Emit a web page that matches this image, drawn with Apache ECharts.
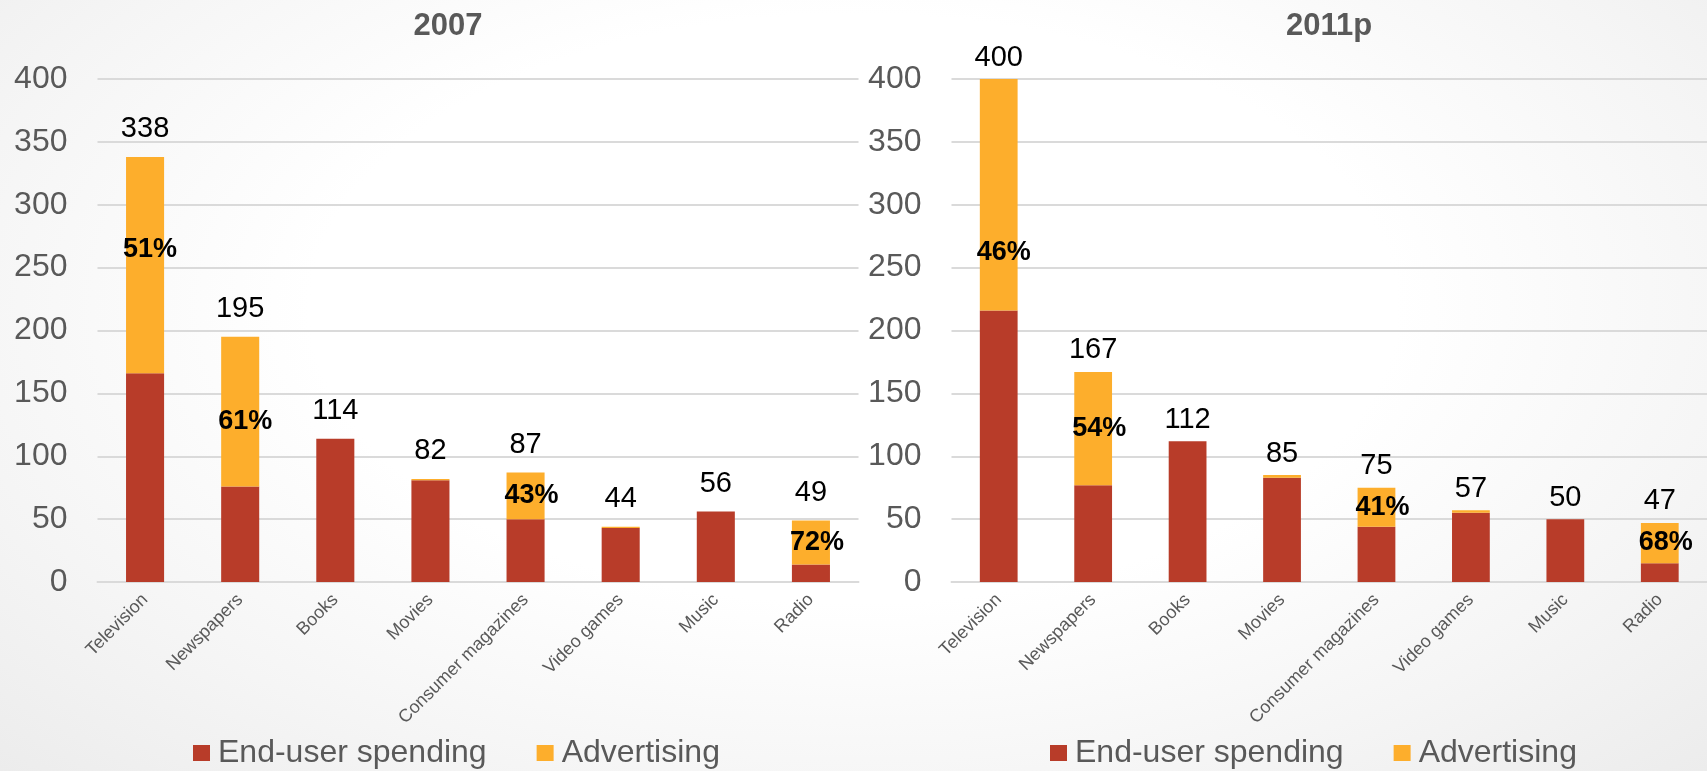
<!DOCTYPE html>
<html>
<head>
<meta charset="utf-8">
<script src="https://cdn.jsdelivr.net/npm/echarts@6/dist/echarts.min.js"></script>
<style>
  html, body { margin: 0; padding: 0; width: 1707px; height: 771px; overflow: hidden; }
  body { background: radial-gradient(ellipse at 50% 40%, #ffffff 45%, #f5f5f5 75%, #ececec 100%); }
  #chart { width: 1707px; height: 771px; }
</style>
</head>
<body>
<div id="chart"></div>
<script>
// ---- data ----
const categories = ['Television', 'Newspapers', 'Books', 'Movies', 'Consumer magazines', 'Video games', 'Music', 'Radio'];
const panelTitles = ['2007', '2011p'];
const seriesNames = ['End-user spending', 'Advertising'];

const endUser2007 = [166, 76, 114, 81, 50, 43, 56, 14];
const advertising2007 = [172, 119, 0, 1, 37, 1, 0, 35];
const adShare2007 = [51, 61, null, null, 43, null, null, 72];

const endUser2011 = [216, 77, 112, 83, 44, 55, 50, 15];
const advertising2011 = [184, 90, 0, 2, 31, 2, 0, 32];
const adShare2011 = [46, 54, null, null, 41, null, null, 68];

const yMin = 0, yMax = 400, yInterval = 50;

// ---- styling ----
const RED = '#B83C29';
const ORANGE = '#FDAE2C';
const GRAY = '#595959';
const GRID = '#dadada';
const FONT = '"Liberation Sans", Arial, Helvetica, sans-serif';

const panels = [
  { endUser: endUser2007, ad: advertising2007, share: adShare2007,
    grid: { left: 97.5, top: 79, width: 761, height: 503 },
    titleX: 443, legendX: 193, totalDist: 13, pctShift: { 0: [5, -16], 1: [5, 10] } },
  { endUser: endUser2011, ad: advertising2011, share: adShare2011,
    grid: { left: 951.5, top: 79, width: 766, height: 503 },
    titleX: 1324, legendX: 1050, totalDist: 7, pctShift: { 0: [5, 58] } }
];

const option = {
  animation: false,
  textStyle: { fontFamily: FONT },
  title: [], grid: [], xAxis: [], yAxis: [], legend: [], series: []
};

panels.forEach((p, i) => {
  const totals = p.endUser.map((v, k) => v + p.ad[k]);
  option.title.push({
    text: panelTitles[i], left: p.titleX, top: 6, textAlign: 'center',
    textStyle: { fontFamily: FONT, fontSize: 31, fontWeight: 'bold', color: GRAY }
  });
  option.grid.push(Object.assign({ containLabel: false }, p.grid));
  option.xAxis.push({
    type: 'category', gridIndex: i, data: categories,
    axisLine: { show: true, lineStyle: { color: GRID, width: 2 } },
    axisTick: { show: false },
    axisLabel: { interval: 0, rotate: 45, margin: 15, fontSize: 18, color: GRAY, fontFamily: FONT }
  });
  option.yAxis.push({
    type: 'value', gridIndex: i, min: yMin, max: yMax, interval: yInterval,
    axisLine: { show: false }, axisTick: { show: false },
    splitLine: { lineStyle: { color: GRID, width: 2 } },
    axisLabel: { margin: 30, fontSize: 32, color: GRAY, fontFamily: FONT }
  });
  option.legend.push({
    data: seriesNames, left: p.legendX, top: 737, padding: 0,
    icon: 'rect', itemWidth: 17, itemHeight: 16, itemGap: 50,
    textStyle: { fontSize: 32, color: GRAY, fontFamily: FONT, padding: [0, 0, 0, 3] },
    selectedMode: false
  });
  const stack = 'stack' + i;
  option.series.push({
    type: 'bar', name: seriesNames[0], xAxisIndex: i, yAxisIndex: i, stack: stack,
    barWidth: '40%', itemStyle: { color: RED }, data: p.endUser,
    emphasis: { disabled: true }
  });
  option.series.push({
    type: 'bar', name: seriesNames[1], xAxisIndex: i, yAxisIndex: i, stack: stack,
    barWidth: '40%', itemStyle: { color: ORANGE },
    data: p.ad.map((v, k) => ({ value: v, label: { offset: p.pctShift[k] || [6, 0] } })),
    label: {
      show: true, position: 'inside', color: '#000', fontSize: 27, fontWeight: 'bold',
      fontFamily: FONT, textBorderWidth: 0,
      formatter: (q) => p.share[q.dataIndex] == null ? '' : p.share[q.dataIndex] + '%'
    },
    emphasis: { disabled: true }
  });
  option.series.push({
    type: 'bar', name: 'total' + i, xAxisIndex: i, yAxisIndex: i, stack: stack,
    barWidth: '40%', itemStyle: { color: 'rgba(0,0,0,0)' },
    data: p.ad.map(() => 0),
    label: {
      show: true, position: 'top', distance: p.totalDist, color: '#000', fontSize: 29,
      fontFamily: FONT, formatter: (q) => String(totals[q.dataIndex])
    },
    emphasis: { disabled: true }
  });
});

const chart = echarts.init(document.getElementById('chart'), null, { renderer: 'canvas' });
chart.setOption(option);
</script>
</body>
</html>
